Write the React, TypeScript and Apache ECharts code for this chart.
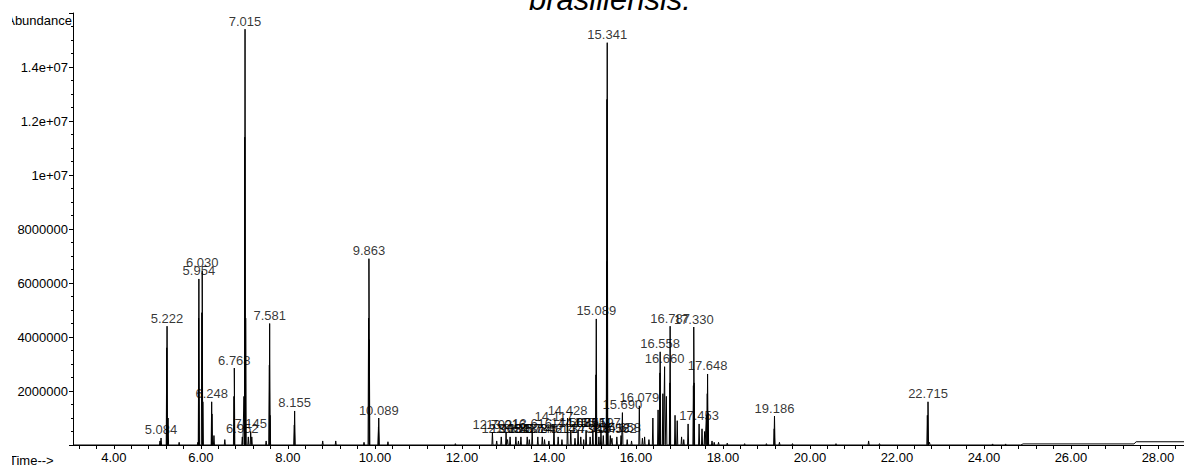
import React, { useEffect, useRef } from "react";
import * as echarts from "echarts";

// Peaks: [retention time (min), abundance]
const earlyPeaks: [number, number][] = [
  [5.06, 150000], [5.084, 260000], [5.215, 3600000], [5.222, 4400000], [5.245, 1000000],
  [5.5, 100000], [5.93, 100000], [5.948, 4700000], [5.954, 6150000], [6.022, 4900000],
  [6.03, 6450000], [6.045, 1600000], [6.248, 1600000], [6.255, 1150000], [6.3, 350000],
  [6.55, 200000], [6.76, 1800000], [6.768, 2850000], [6.952, 300000], [6.99, 1800000],
  [7.008, 11400000], [7.015, 15400000], [7.03, 4700000], [7.09, 300000], [7.145, 500000],
  [7.17, 300000], [7.5, 150000], [7.574, 2960000], [7.581, 4500000], [7.59, 1100000],
  [8.148, 740000], [8.155, 1260000], [8.8, 150000], [9.1, 150000], [9.75, 100000],
  [9.855, 4700000], [9.863, 6900000], [9.872, 3900000], [10.082, 670000], [10.089, 1000000],
  [10.3, 120000],
];

const middlePeaks: [number, number][] = [
  [11.85, 50000], [12.702, 480000], [12.8, 150000], [12.905, 300000], [13.016, 450000],
  [13.05, 200000], [13.108, 300000], [13.241, 300000], [13.3, 150000], [13.357, 300000],
  [13.502, 300000], [13.55, 200000], [13.616, 500000], [13.745, 300000], [13.848, 300000],
  [13.9, 200000], [14.0, 150000], [14.117, 750000], [14.213, 300000], [14.3, 200000],
  [14.428, 1000000], [14.503, 550000], [14.6, 250000], [14.671, 550000], [14.733, 300000],
  [14.8, 200000], [14.855, 550000], [14.948, 300000], [15.011, 550000], [15.082, 2600000],
  [15.089, 4670000], [15.15, 300000], [15.197, 550000], [15.25, 350000], [15.33, 6800000],
  [15.335, 12800000], [15.341, 14900000], [15.35, 1000000], [15.412, 350000], [15.45, 250000],
  [15.562, 300000], [15.658, 350000], [15.69, 1200000], [15.8, 200000], [15.9, 150000],
  [16.079, 1450000], [16.15, 250000], [16.2, 300000], [16.3, 200000], [16.39, 1000000],
  [16.51, 1300000], [16.552, 2670000], [16.558, 3450000], [16.62, 1900000], [16.66, 2900000],
  [16.7, 1800000], [16.78, 2300000], [16.787, 4400000], [16.9, 1100000], [16.95, 900000],
  [17.05, 300000], [17.1, 200000], [17.2, 780000], [17.322, 2200000], [17.33, 4370000],
  [17.338, 2300000], [17.453, 780000], [17.52, 600000], [17.58, 500000], [17.62, 1100000],
  [17.641, 1900000], [17.648, 2630000], [17.66, 1200000], [17.75, 150000], [17.8, 100000],
  [17.9, 100000],
];

const latePeaks: [number, number][] = [
  [18.1, 70000], [18.5, 50000], [19.0, 50000], [19.18, 600000], [19.186, 1070000],
  [19.3, 100000], [19.6, 50000], [20.6, 50000], [21.35, 150000], [21.6, 50000],
  [22.7, 1100000], [22.715, 1600000], [22.75, 100000], [24.2, 40000], [24.5, 40000],
];

// Raised baseline at the end of the run
const tailBaseline: [number, number][] = [
  [24.85, 0], [24.9, 40000], [27.45, 40000], [27.5, 120000], [28.7, 120000],
];

const labeledTimes: number[] = [
  5.084, 5.222, 5.954, 6.03, 6.248, 6.768, 6.952, 7.015, 7.145, 7.581, 8.155, 9.863, 10.089,
  12.702, 12.905, 13.016, 13.108, 13.241, 13.357, 13.502, 13.616, 13.745, 13.848, 14.117,
  14.213, 14.428, 14.503, 14.671, 14.733, 14.855, 14.948, 15.011, 15.089, 15.197, 15.341,
  15.412, 15.562, 15.658, 15.69, 16.079, 16.558, 16.66, 16.787, 17.33, 17.453, 17.648,
  19.186, 22.715,
];

const xTickLabels: number[] = [4, 6, 8, 10, 12, 14, 16, 18, 20, 22, 24, 26, 28];

const FONT = '"Liberation Sans", Arial, sans-serif';

export default function App() {
  const ref = useRef<HTMLDivElement>(null);

  useEffect(() => {
    if (!ref.current) return;
    const chart = echarts.init(ref.current, undefined, { renderer: "svg" });

    const allPeaks = [...earlyPeaks, ...middlePeaks, ...latePeaks].sort((a, b) => a[0] - b[0]);
    const hw = 0.012;
    const trace: [number, number][] = [[3.06, 0]];
    allPeaks.forEach(([t, h]) => {
      trace.push([t - hw, 0], [t, h], [t + hw, 0]);
    });
    tailBaseline.forEach((p) => trace.push(p));

    const labelPoints = labeledTimes.map((t) => {
      const p = allPeaks.find((q) => q[0] === t);
      return [t, p ? p[1] : 0];
    });

    const minorTicks: number[] = [];
    for (let i = 8; i <= 71; i++) minorTicks.push(Math.round(i * 0.4 * 10) / 10);

    chart.setOption({
      animation: false,
      backgroundColor: "#fff",
      grid: { left: 73, right: 0, top: 13, bottom: 22 },
      xAxis: {
        type: "value",
        min: 3.06,
        max: 28.6,
        axisLine: { show: true, lineStyle: { color: "#000", width: 1 } },
        axisTick: { show: true, customValues: minorTicks, length: 4, lineStyle: { color: "#000" } },
        axisLabel: {
          customValues: xTickLabels,
          formatter: (v: number) => v.toFixed(2),
          color: "#000",
          fontSize: 13,
          fontFamily: FONT,
          margin: 6,
        },
        splitLine: { show: false },
      },
      yAxis: {
        type: "value",
        min: 0,
        max: 16000000,
        interval: 2000000,
        axisLine: { show: true, lineStyle: { color: "#000", width: 1 } },
        axisTick: { show: true, length: 4, lineStyle: { color: "#000" } },
        minorTick: { show: true, splitNumber: 4, length: 2, lineStyle: { color: "#000" } },
        axisLabel: {
          formatter: (v: number) => {
            if (v === 0 || v > 15000000) return "";
            if (v >= 10000000) return v / 10000000 + "e+07";
            return String(v);
          },
          color: "#000",
          fontSize: 13,
          fontFamily: FONT,
          margin: 5,
        },
        splitLine: { show: false },
      },
      graphic: [
        {
          type: "text",
          x: 610,
          y: 15,
          style: {
            text: "brasiliensis.",
            font: `italic 31px ${FONT}`,
            fill: "#000",
            align: "center",
            verticalAlign: "bottom",
          },
        },
        {
          type: "text",
          x: 72,
          y: 20,
          style: {
            text: "Abundance",
            font: `13px ${FONT}`,
            fill: "#000",
            align: "right",
            verticalAlign: "middle",
          },
        },
        {
          type: "text",
          x: 9,
          y: 460,
          style: {
            text: "Time-->",
            font: `13px ${FONT}`,
            fill: "#000",
            align: "left",
            verticalAlign: "middle",
          },
        },
        {
          type: "rect",
          z: 100,
          shape: { x: 0, y: 0, width: 12, height: 467 },
          style: { fill: "#fff" },
        },
      ],
      series: [
        {
          type: "line",
          data: trace,
          showSymbol: false,
          symbol: "none",
          lineStyle: { color: "#000", width: 1 },
          silent: true,
        },
        {
          type: "scatter",
          data: labelPoints,
          symbolSize: 1,
          itemStyle: { color: "rgba(0,0,0,0)" },
          label: {
            show: true,
            position: "top",
            distance: 1,
            formatter: (p: any) => p.value[0].toFixed(3),
            color: "#000",
            fontSize: 13,
            fontFamily: FONT,
          },
          labelLayout: { hideOverlap: false },
          silent: true,
        },
      ],
    });

    return () => chart.dispose();
  }, []);

  return (
    <div
      ref={ref}
      style={{ position: "fixed", left: 0, top: 0, width: 1184, height: 467, background: "#fff" }}
    />
  );
}
